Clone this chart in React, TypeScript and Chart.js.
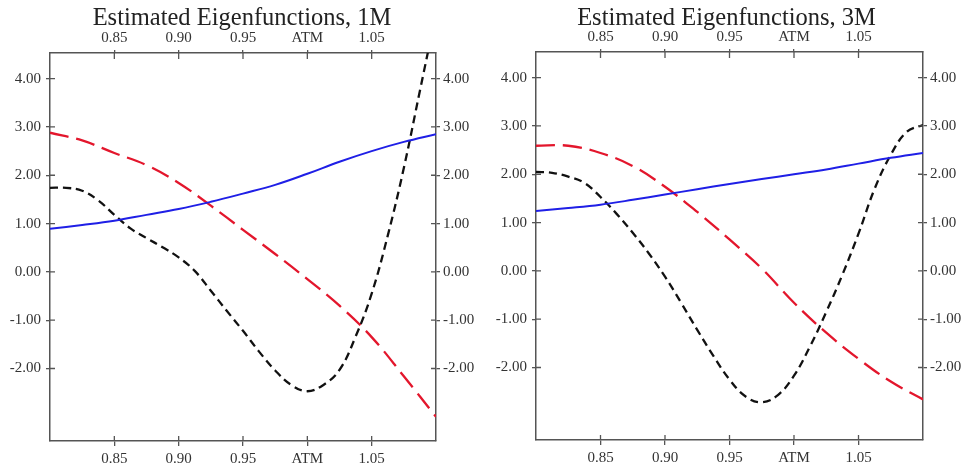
import React, { useEffect, useRef } from 'react';
import { Chart, registerables } from 'chart.js';

Chart.register(...registerables);

// ---- axis settings ----
const X_MIN = 0.8;
const X_MAX = 1.1;
const Y_MIN = -3.5;
const Y_MAX = 4.53;
const X_TICKS = [0.85, 0.9, 0.95, 1.0, 1.05];
const Y_TICKS = [-2, -1, 0, 1, 2, 3, 4];

// ---- x grids for the series ----
const coarseX = [0.8, 0.825, 0.85, 0.875, 0.9, 0.925, 0.95, 0.975, 1.0, 1.025, 1.05, 1.075, 1.1];
const fineX = [
  0.8, 0.8125, 0.825, 0.8375, 0.85, 0.8625, 0.875, 0.8875, 0.9, 0.9125, 0.925, 0.9375, 0.95,
  0.9625, 0.975, 0.9875, 1.0, 1.0125, 1.025, 1.0375, 1.05, 1.0625, 1.075, 1.0875, 1.1,
];

// ---- 1M eigenfunctions ----
const blue1M = [0.89, 0.97, 1.06, 1.18, 1.3, 1.45, 1.62, 1.8, 2.03, 2.28, 2.5, 2.69, 2.85];
const red1M = [2.88, 2.72, 2.46, 2.21, 1.84, 1.37, 0.87, 0.37, -0.15, -0.7, -1.35, -2.16, -3.0];
const black1M = [
  1.74, 1.74, 1.68, 1.48, 1.18, 0.9, 0.7, 0.51, 0.3, 0.02, -0.39, -0.81, -1.22,
  -1.65, -2.04, -2.34, -2.47, -2.34, -2.03, -1.34, -0.45, 0.75, 2.15, 3.75, 5.35,
];

// ---- 3M eigenfunctions ----
const blue3M = [1.24, 1.3, 1.37, 1.47, 1.58, 1.69, 1.8, 1.9, 2.0, 2.1, 2.22, 2.34, 2.44];
const red3M = [2.59, 2.59, 2.44, 2.17, 1.74, 1.22, 0.65, 0.05, -0.66, -1.28, -1.82, -2.29, -2.66];
const black3M = [
  2.05, 2.03, 1.95, 1.82, 1.53, 1.18, 0.79, 0.36, -0.12, -0.66, -1.22, -1.76, -2.25,
  -2.6, -2.72, -2.57, -2.17, -1.56, -0.85, -0.08, 0.77, 1.7, 2.4, 2.88, 3.02,
];

const FONT = '"Liberation Serif", "Times New Roman", "DejaVu Serif", serif';
const AXIS_COLOR = '#555555';
const TEXT_COLOR = '#333333';

const innerTicks = {
  id: 'innerTicks',
  afterDraw(chart: any) {
    const { ctx, chartArea: a, scales } = chart;
    ctx.save();
    ctx.strokeStyle = AXIS_COLOR;
    ctx.lineWidth = 1.3;
    ctx.beginPath();
    for (const t of scales.x.ticks) {
      const p = scales.x.getPixelForValue(t.value);
      ctx.moveTo(p, a.bottom);
      ctx.lineTo(p, a.bottom - 5);
    }
    for (const t of scales.x2.ticks) {
      const p = scales.x2.getPixelForValue(t.value);
      ctx.moveTo(p, a.top);
      ctx.lineTo(p, a.top + 6);
    }
    for (const t of scales.y.ticks) {
      const p = scales.y.getPixelForValue(t.value);
      ctx.moveTo(a.left, p);
      ctx.lineTo(a.left + 5, p);
    }
    for (const t of scales.y2.ticks) {
      const p = scales.y2.getPixelForValue(t.value);
      ctx.moveTo(a.right, p);
      ctx.lineTo(a.right - 5, p);
    }
    ctx.stroke();
    ctx.restore();
  },
};

function makeAxis(axis: 'x' | 'y', position: string, size: number, tickLen: number, pad: number) {
  const isX = axis === 'x';
  return {
    type: 'linear',
    axis,
    position,
    min: isX ? X_MIN : Y_MIN,
    max: isX ? X_MAX : Y_MAX,
    bounds: 'data',
    afterBuildTicks: (s: any) => {
      s.ticks = (isX ? X_TICKS : Y_TICKS).map((v) => ({ value: v }));
    },
    afterFit: (s: any) => {
      if (isX) s.height = size;
      else s.width = size;
    },
    grid: {
      drawOnChartArea: false,
      drawTicks: true,
      tickLength: tickLen,
      color: AXIS_COLOR,
      lineWidth: 1.3,
    },
    border: { display: true, color: AXIS_COLOR, width: 1.5 },
    ticks: {
      padding: pad,
      color: TEXT_COLOR,
      autoSkip: false,
      maxRotation: 0,
      font: { family: FONT, size: 15, lineHeight: 1.0 },
      callback: (v: any) => (isX && v === 1 ? 'ATM' : Number(v).toFixed(2)),
    },
  };
}

interface PanelProps {
  title: string;
  blue: number[];
  red: number[];
  black: number[];
  left: number;
  width: number;
  leftW: number;
  rightW: number;
  topH: number;
  bottomH: number;
}

function Panel(p: PanelProps) {
  const ref = useRef<HTMLCanvasElement | null>(null);
  useEffect(() => {
    if (!ref.current) return;
    const pts = (xs: number[], ys: number[]) => xs.map((x, i) => ({ x, y: ys[i] }));
    const common = { pointRadius: 0, tension: 0.4, xAxisID: 'x', yAxisID: 'y' };
    const chart = new Chart(ref.current, {
      type: 'line',
      data: {
        datasets: [
          { ...common, data: pts(coarseX, p.blue), borderColor: '#1f1fe6', borderWidth: 2 },
          {
            ...common,
            data: pts(coarseX, p.red),
            borderColor: '#e3162c',
            borderWidth: 2.3,
            borderDash: [19, 8],
          },
          {
            ...common,
            data: pts(fineX, p.black),
            borderColor: '#111111',
            borderWidth: 2.3,
            borderDash: [8, 5],
          },
        ],
      },
      options: {
        responsive: false,
        animation: false,
        layout: { padding: 0 },
        plugins: {
          legend: { display: false },
          tooltip: { enabled: false },
          title: {
            display: true,
            text: p.title,
            color: '#222222',
            font: { family: FONT, size: 24.5, weight: 'normal', lineHeight: 1.0 },
            padding: { top: 6, bottom: 0 },
          },
        },
        scales: {
          x: makeAxis('x', 'bottom', p.bottomH, 5, 6),
          x2: makeAxis('x', 'top', p.topH, 3, 4.5),
          y: makeAxis('y', 'left', p.leftW, 4, 5),
          y2: makeAxis('y', 'right', p.rightW, 4, 3),
        },
      } as any,
      plugins: [innerTicks],
    } as any);
    return () => chart.destroy();
  }, []);
  return (
    <canvas
      ref={ref}
      width={p.width}
      height={471}
      style={{ position: 'absolute', left: p.left, top: 0, width: p.width, height: 471, display: 'block' }}
    />
  );
}

export default function App() {
  return (
    <div style={{ position: 'absolute', left: 0, top: 0, width: 969, height: 471, background: '#ffffff' }}>
      <Panel
        title="Estimated Eigenfunctions, 1M"
        blue={blue1M}
        red={red1M}
        black={black1M}
        left={0}
        width={484}
        leftW={50}
        rightW={48}
        topH={22.5}
        bottomH={30}
      />
      <Panel
        title="Estimated Eigenfunctions, 3M"
        blue={blue3M}
        red={red3M}
        black={black3M}
        left={484}
        width={485}
        leftW={52}
        rightW={46}
        topH={21.5}
        bottomH={31}
      />
    </div>
  );
}
